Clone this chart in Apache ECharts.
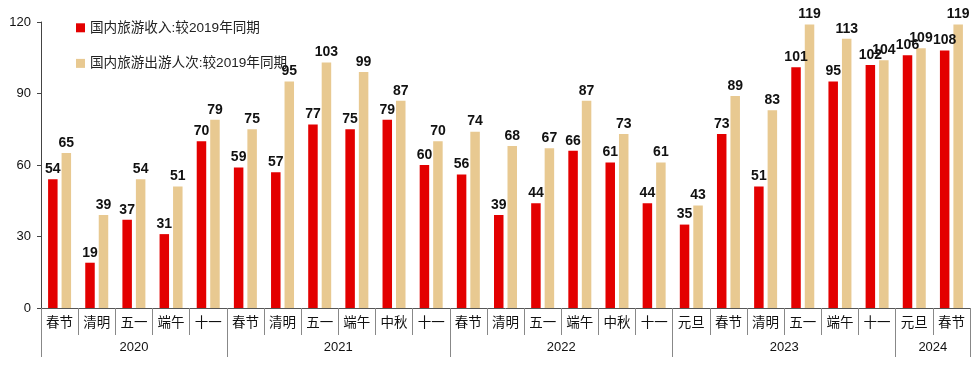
<!DOCTYPE html>
<html>
<head>
<meta charset="utf-8">
<script src="https://cdn.jsdelivr.net/npm/echarts@6/dist/echarts.min.js"></script>
<style>html,body{margin:0;padding:0;background:#fff}#c{width:980px;height:370px}</style>
</head>
<body>
<div id="c"></div>
<script>
const categories = ['春节','清明','五一','端午','十一',
  '春节','清明','五一','端午','中秋','十一',
  '春节','清明','五一','端午','中秋','十一',
  '元旦','春节','清明','五一','端午','十一',
  '元旦','春节'];
const years = ['2020','2021','2022','2023','2024'];
const yearGroupSizes = [5,6,6,6,2];
const revenue = [54,19,37,31,70, 59,57,77,75,79,60, 56,39,44,66,61,44, 35,73,51,101,95,102, 106,108];
const trips = [65,39,54,51,79, 75,95,103,99,87,70, 74,68,67,87,73,61, 43,89,83,119,113,104, 109,119];
const yTicks = {min:0, max:120, interval:30};
const seriesNames = ['国内旅游收入:较2019年同期','国内旅游出游人次:较2019年同期'];

// build half-step year axis (boundaryGap false): 2*N+1 points
const N = categories.length;
const halfData = new Array(2*N+1).fill('');
const boundaryIdx = new Set([0]);
let start = 0;
yearGroupSizes.forEach((s,i)=>{
  const mid = start + s/2;
  halfData[Math.round(mid*2)] = years[i];
  start += s;
  boundaryIdx.add(start*2);
});

const FF = 'Liberation Sans, Arial, Noto Sans CJK SC, sans-serif';
const chart = echarts.init(document.getElementById('c'), null, {renderer:'canvas'});
chart.setOption({
  animation:false,
  backgroundColor:'#fff',
  textStyle:{fontFamily:FF},
  grid:{left:41, right:10, top:22, bottom:62, containLabel:false},
  legend:{
    orient:'vertical', left:71, top:16, itemGap:22,
    itemWidth:9, itemHeight:9, icon:'rect',
    textStyle:{fontSize:13.6, color:'#222', fontFamily:FF},
    data:seriesNames
  },
  xAxis:[{
    type:'category', data:categories, position:'bottom',
    axisLine:{show:true, lineStyle:{color:'#555', width:1}},
    axisTick:{show:true, length:27, lineStyle:{color:'#888'}},
    axisLabel:{interval:0, fontSize:13.5, color:'#111', margin:9, fontFamily:FF}
  },{
    type:'category', data:halfData, position:'bottom', boundaryGap:false,
    axisLine:{show:false},
    axisTick:{show:true, length:49, interval:(i)=>boundaryIdx.has(i), lineStyle:{color:'#888'}},
    axisLabel:{interval:0, fontSize:13, color:'#111', margin:33, fontFamily:FF}
  }],
  yAxis:{
    type:'value', min:yTicks.min, max:yTicks.max, interval:yTicks.interval,
    axisLine:{show:true, lineStyle:{color:'#444'}},
    axisTick:{show:true, length:4, lineStyle:{color:'#444'}},
    splitLine:{show:false},
    axisLabel:{fontSize:13, color:'#111', margin:10, fontFamily:FF}
  },
  series:[{
    name:seriesNames[0], type:'bar', data:revenue, xAxisIndex:0,
    barWidth:9.5, barGap:'42%',
    itemStyle:{color:'#E30000'},
    label:{show:true, position:'top', distance:3, fontSize:14, fontWeight:'bold', color:'#111', fontFamily:FF}
  },{
    name:seriesNames[1], type:'bar', data:trips, xAxisIndex:0,
    barWidth:9.5,
    itemStyle:{color:'#E8C991'},
    label:{show:true, position:'top', distance:3, fontSize:14, fontWeight:'bold', color:'#111', fontFamily:FF}
  }]
});
</script>
</body>
</html>
